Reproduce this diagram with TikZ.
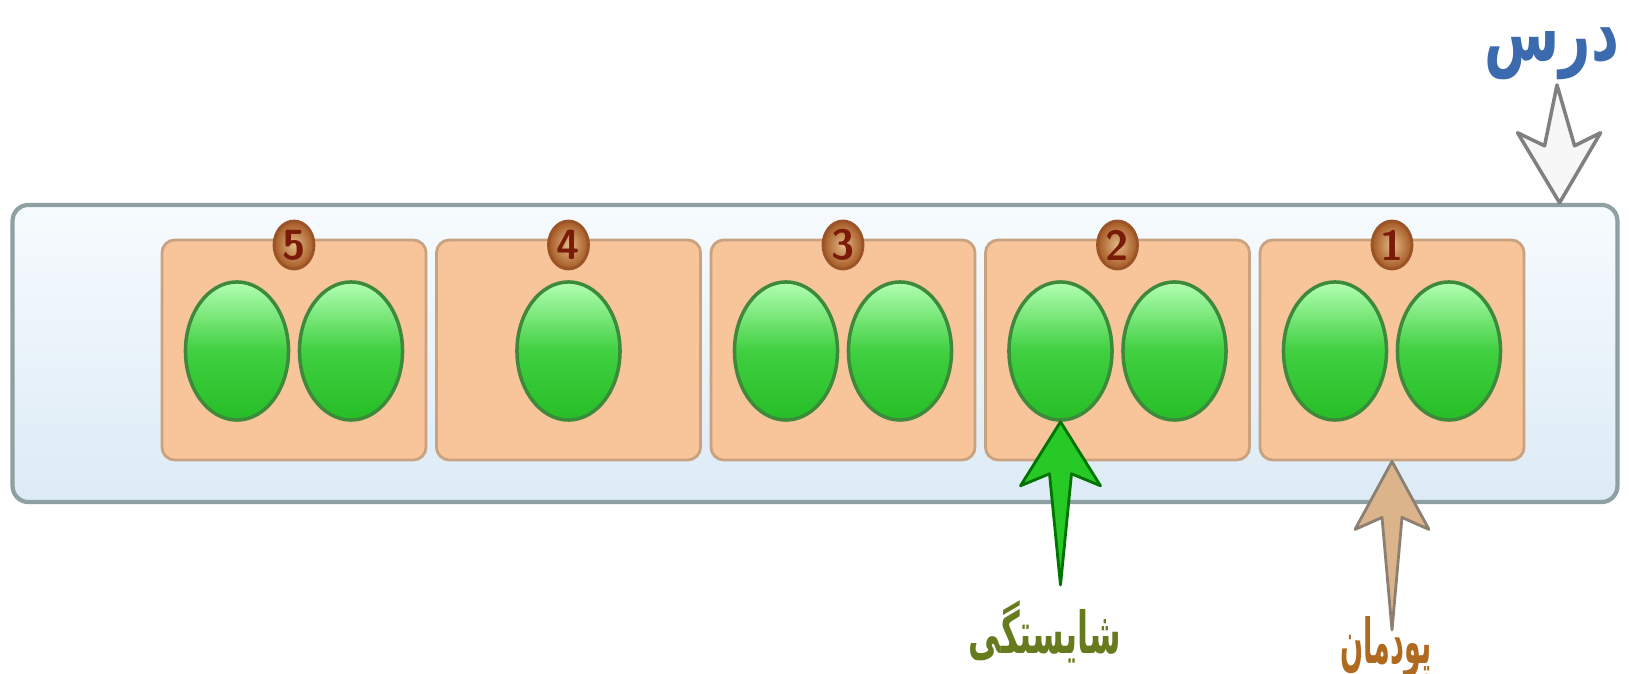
\documentclass[tikz,border=0pt]{standalone}
\usepackage{fontspec}
\usepackage{graphicx}
\usepackage{tikz}
\usetikzlibrary{shapes.geometric,calc,positioning}
\TeXXeTstate=1
\newfontfamily\farsifont[Script=Arabic]{DejaVu Sans}
\definecolor{panelline}{HTML}{8FA0A2}
\definecolor{paneltop}{HTML}{F7FBFE}
\definecolor{panelbot}{HTML}{DCEBF6}
\definecolor{unitfill}{HTML}{F8C49A}
\definecolor{unitline}{HTML}{C9A27F}
\definecolor{ballline}{HTML}{3D8A3D}
\definecolor{numfill}{HTML}{D89A50}
\definecolor{numline}{HTML}{9A5428}
\definecolor{numtext}{HTML}{7A1A08}
\definecolor{darsblue}{HTML}{3B6AAE}
\definecolor{skillolive}{HTML}{667A1E}
\definecolor{modbrown}{HTML}{B06A20}
\definecolor{tanfill}{HTML}{DCB48C}

\begin{document}
\begin{tikzpicture}[x=0.01cm,y=-0.01cm,
  panel/.style={draw=panelline,line width=1.2pt,rounded corners=0.16cm,top color=paneltop,bottom color=panelbot,minimum width=16.04cm,minimum height=2.97cm,inner sep=0pt},
  unit/.style={draw=unitline,line width=0.8pt,rounded corners=0.13cm,fill=unitfill,minimum width=2.64cm,minimum height=2.2cm,inner sep=0pt},
  ball/.style={ellipse,draw=ballline,line width=1pt,top color=green!30!white,bottom color=green!70!black!85,middle color=green!75!black!75,minimum width=1.03cm,minimum height=1.38cm,inner sep=0pt},
  num/.style={ellipse,draw=numline,line width=0.8pt,inner color=numfill!70!white,outer color=numline!90!orange,minimum width=0.4cm,minimum height=0.48cm,inner sep=0pt,font=\sffamily\bfseries\fontsize{12}{12}\selectfont,text=numtext},
  lbl/.style={inner sep=0pt,font=\farsifont\bfseries},
  greenarrow/.style={draw=green!45!black,line width=0.8pt,fill=green!75!black!85,line join=round},
  tanarrow/.style={draw=gray!80!brown,line width=0.8pt,fill=tanfill,line join=round},
  downarrow/.style={draw=gray,line width=1pt,fill=gray!6,line join=round}
]
  \useasboundingbox[fill=white] (0,0) rectangle (1629,674);
  \node[panel] (panel) at (815,353.5) {};
  % units, right to left
  \node[unit] (b1) at (1392,350) {};
  \node[unit] (b2) at (1117.5,350) {};
  \node[unit] (b3) at (843,350) {};
  \node[unit] (b4) at (568.5,350) {};
  \node[unit] (b5) at (294,350) {};
  \node[num] (n1) at (1392,245) {1};
  \node[num] (n2) at (1117.5,245) {2};
  \node[num] (n3) at (843,245) {3};
  \node[num] (n4) at (568.5,245) {4};
  \node[num] (n5) at (294,245) {5};
  % skills
  \node[ball] (g1a) at (1335,351) {};
  \node[ball] (g1b) at (1449,351) {};
  \node[ball] (g2a) at (1060.5,351) {};
  \node[ball] (g2b) at (1174.5,351) {};
  \node[ball] (g3a) at (786,351) {};
  \node[ball] (g3b) at (900,351) {};
  \node[ball] (g4a) at (568.5,351) {};
  \node[ball] (g5a) at (237,351) {};
  \node[ball] (g5b) at (351,351) {};
  % labels
  \node[lbl,text=darsblue] (dars) at (1552,54) {\scalebox{0.86}[1.25]{\fontsize{18}{20}\selectfont\beginR درس\endR}};
  \node[lbl,text=skillolive] (skill) at (1045,632) {\scalebox{0.83}[1.5]{\fontsize{11}{13}\selectfont\beginR شایستگی\endR}};
  \node[lbl,text=modbrown] (module) at (1386,648) {\scalebox{0.7}[1.6]{\fontsize{11}{13}\selectfont\beginR پودمان\endR}};
  % arrows
  \coordinate (dtip) at ($(panel.north east)+(-60,0)$);
  \coordinate (dtail) at (1557,85);
  \coordinate (gtail) at (1060.5,585);
  \coordinate (ttail) at (1392,630);
  \draw[downarrow] (dtip) -- +(41,-70) -- +(15,-57) -- (dtail) -- ($(dtip)+(-15,-57)$) -- ($(dtip)+(-42,-70)$) -- cycle;
  \draw[greenarrow] (g2a.south) -- +(40,64) -- +(11,52) -- (gtail) -- ($(g2a.south)+(-11,52)$) -- ($(g2a.south)+(-40,64)$) -- cycle;
  \draw[tanarrow] (b1.south) -- +(37,68) -- +(10,56) -- (ttail) -- ($(b1.south)+(-10,56)$) -- ($(b1.south)+(-37,68)$) -- cycle;
\end{tikzpicture}
\end{document}
